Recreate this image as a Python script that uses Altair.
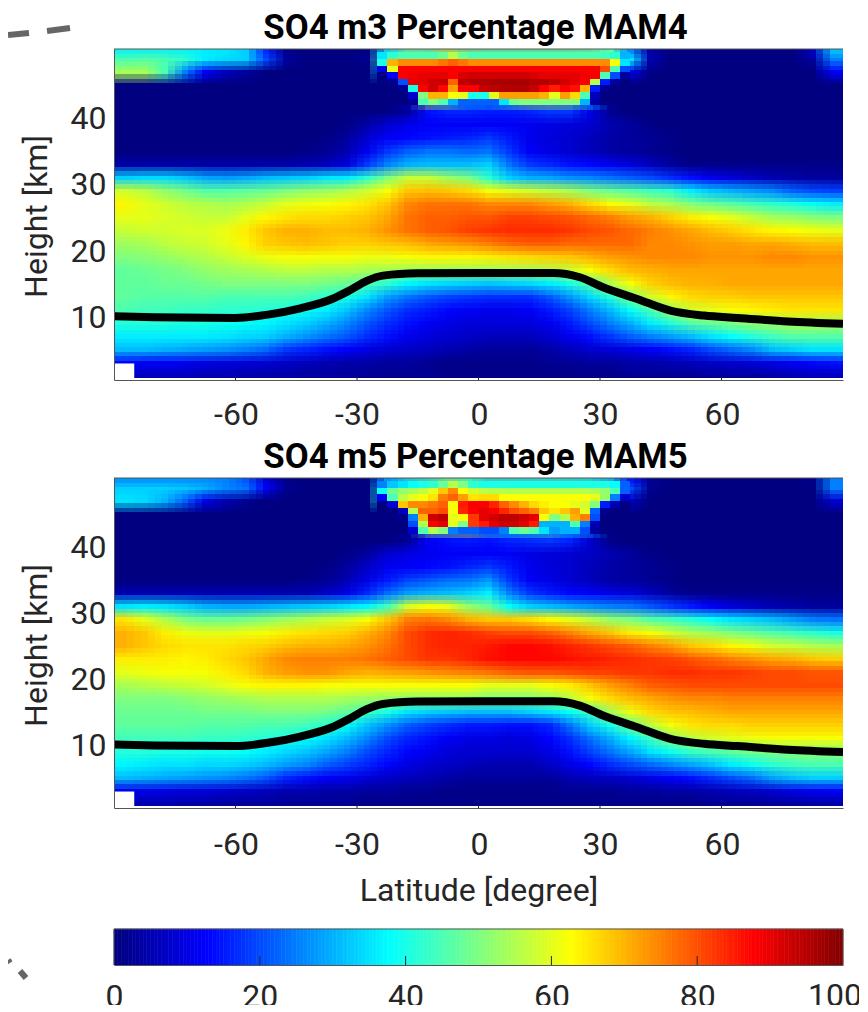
import altair as alt
import pandas as pd

LAT_EDGES = [-90 + 5 * i for i in range(37)]
ROW_EDGES = [50.4, 49.8] + list(range(48, 0, -2)) + [0.7]

M4 = [
 [36,36,36,36,36,36,33,15,1,0,0,0,0,30,40,40,50,42, 40,40,40,40,40,40,38,22,3,0,0,0,0,0,0,0,8,34],
 [45,46,45,42,36,34,33,20,3,0,0,0,2,45,72,74,78,76, 74,74,74,74,74,72,62,35,5,0,0,0,0,0,0,0,3,25],
 [54,54,45,25,12,6,3,0,0,0,0,0,0,30,88,88,88,89, 89,89,89,89,89,85,42,10,1,0,0,0,0,0,0,0,0,12],
 [0,0,0,0,0,0,0,0,0,0,0,0,0,0,20,88,90,93, 94,95,95,94,92,70,12,0,0,0,0,0,0,0,0,0,0,0],
 [0,0,0,0,0,0,0,0,0,0,0,0,0,0,5,58,52,32, 32,44,54,55,54,38,2,0,0,0,0,0,0,0,0,0,0,0],
 [0,0,0,0,0,0,0,0,0,0,0,0,0,1,3,14,16,16, 15,15,16,18,18,10,2,0,0,0,0,0,0,0,0,0,0,0],
 [0,0,0,0,0,0,0,0,0,0,0,1,4,8,11,12,12,12, 12,12,11,10,9,8,5,3,1,0,0,0,0,0,0,0,0,0],
 [0,0,0,0,0,0,0,0,0,0,1,3,8,12,13,14,15,16, 18,15,11,9,8,6,4,3,2,1,0,0,0,0,0,0,0,0],
 [0,0,0,0,0,0,0,0,0,1,2,5,11,18,22,24,24,23, 24,18,12,10,8,6,4,3,2,1,0,0,0,0,0,0,0,0],
 [4,4,4,4,4,4,4,4,4,5,6,9,18,25,30,31,31,31, 33,24,18,16,14,13,11,9,6,3,1,1,1,1,1,1,1,1],
 [33,34,34,32,29,28,29,31,32,33,35,36,42,50,57,57,53,50, 42,33,30,29,27,26,24,22,20,17,14,11,9,7,5,4,3,3],
 [58,56,52,49,46,46,47,48,50,52,53,55,58,62,68,69,68,66, 62,60,58,56,54,50,48,46,44,42,36,32,30,28,26,22,20,19],
 [63,60,58,56,55,54,55,57,60,61,62,63,65,68,74,76,76,76, 74,74,74,72,70,66,62,60,56,54,50,48,46,44,42,40,38,36],
 [60,60,59,58,57,57,60,63,65,66,66,67,68,71,76,78,78,79, 79,81,81,80,79,77,75,72,70,67,64,62,60,57,54,53,51,50],
 [57,58,58,59,59,61,64,68,70,70,69,69,70,73,76,78,79,81, 82,83,83,83,82,80,79,77,75,73,71,69,67,65,63,62,61,60],
 [53,54,56,57,58,60,63,67,68,69,68,67,67,68,69,71,72,73, 75,77,78,78,77,77,77,77,74,74,73,72,72,71,71,70,69,69],
 [50,51,52,54,55,57,59,61,62,62,62,62,61,61,62,63,63,63, 64,65,66,67,68,70,72,73,74,74,74,73,73,73,74,74,73,73],
 [47,48,49,50,52,53,54,55,56,56,55,55,54,54,53,53,53,53, 53,54,54,55,57,62,66,69,70,71,71,71,71,71,71,71,71,71],
 [47,47,48,48,49,50,50,50,50,50,49,48,45,42,37,35,34,33, 32,33,34,36,40,46,55,62,67,69,70,70,71,71,71,71,71,71],
 [47,46,46,46,46,45,45,45,45,44,42,40,35,28,24,21,19,18, 17,17,17,21,27,34,41,50,58,63,66,67,67,68,68,68,68,68],
 [45,44,44,43,43,42,42,41,40,38,36,32,26,21,17,15,13,12, 11,11,12,15,19,25,31,38,45,53,58,60,62,63,64,65,65,65],
 [41,41,41,40,40,39,38,37,35,33,30,26,21,17,14,12,10,9, 9,9,9,11,15,20,25,30,36,41,46,48,50,52,53,54,54,53],
 [36,36,36,36,36,35,34,33,30,27,24,21,17,14,11,9,8,7, 6,6,6,8,11,14,18,22,25,28,31,35,38,41,44,46,46,46],
 [31,31,30,29,28,27,25,23,18,16,14,12,10,8,7,6,5,4, 3,3,3,4,6,8,9,10,12,14,16,20,23,26,31,33,35,35],
 [13,12,12,11,10,9,9,8,7,6,5,4,4,3,3,2,1,1, 1,1,1,2,2,3,3,4,4,5,6,7,8,9,10,12,13,14],
 [6,6,6,6,5,5,4,4,4,3,3,3,2,2,2,2,1,1, 1,1,1,1,1,1,1,2,2,2,2,3,3,3,4,5,6,6],
]

M5 = [
 [25,25,25,25,25,25,20,8,1,0,0,0,0,22,28,30,42,34, 30,30,30,30,30,30,25,12,2,0,0,0,0,0,0,0,2,25],
 [33,33,33,32,30,26,24,12,2,0,0,0,0,38,52,58,72,60, 55,54,54,54,54,52,48,20,2,0,0,0,0,0,0,0,0,25],
 [35,34,30,22,10,5,2,0,0,0,0,0,0,40,62,70,76,72, 78,70,66,64,62,58,30,6,0,0,0,0,0,0,0,0,0,8],
 [0,0,0,0,0,0,0,0,0,0,0,0,0,0,3,80,88,72, 88,88,86,78,62,62,5,0,0,0,0,0,0,0,0,0,0,0],
 [0,0,0,0,0,0,0,0,0,0,0,0,0,0,3,52,55,60, 42,38,42,45,35,32,2,0,0,0,0,0,0,0,0,0,0,0],
 [0,0,0,0,0,0,0,0,0,0,0,0,0,0,2,12,14,15, 14,16,17,18,16,8,1,0,0,0,0,0,0,0,0,0,0,0],
 [0,0,0,0,0,0,0,0,0,0,0,1,3,8,10,11,12,12, 12,12,10,9,8,7,5,3,1,0,0,0,0,0,0,0,0,0],
 [0,0,0,0,0,0,0,0,0,0,1,3,7,11,12,13,14,16, 18,15,11,9,8,6,4,3,2,1,0,0,0,0,0,0,0,0],
 [0,0,0,0,0,0,0,0,0,1,2,5,10,15,19,21,23,24, 27,18,12,10,8,6,4,3,2,1,0,0,0,0,0,0,0,0],
 [5,5,5,5,5,5,5,5,5,5,7,10,16,23,28,30,31,33, 36,25,18,15,13,12,10,9,6,3,1,1,1,1,1,1,1,1],
 [35,36,35,33,30,29,29,30,31,32,33,35,37,44,58,62,60,52, 48,38,33,31,29,27,25,24,21,18,15,12,9,7,5,4,3,3],
 [65,60,55,50,48,48,49,51,53,55,57,59,62,68,75,76,74,70, 68,68,66,63,60,56,52,50,46,44,41,38,35,33,31,28,25,24],
 [70,68,64,61,60,60,61,62,64,65,66,67,70,74,80,83,84,83, 81,80,80,78,75,71,68,64,62,58,55,53,50,48,46,44,42,40],
 [70,68,66,65,65,65,66,67,69,70,70,71,73,76,80,83,84,84, 85,87,87,86,84,82,80,78,75,72,68,66,63,61,58,57,55,54],
 [64,64,64,63,64,66,68,71,74,75,75,75,76,78,80,82,82,84, 86,87,87,87,86,85,84,83,82,81,79,77,75,73,71,70,68,67],
 [60,61,62,62,62,64,66,70,72,73,73,71,70,71,72,73,74,75, 76,78,79,79,80,81,81,82,82,83,83,82,82,81,80,80,79,79],
 [54,55,56,57,58,60,62,63,63,63,62,62,62,62,62,62,62,62, 60,60,60,62,64,68,72,75,78,79,80,80,80,80,80,80,80,80],
 [50,50,50,51,52,53,54,55,55,55,55,54,53,52,52,52,52,52, 50,50,50,52,56,62,66,69,71,73,74,74,75,75,75,75,75,75],
 [48,48,48,48,49,49,49,50,50,50,49,47,44,40,35,33,32,31, 31,31,33,35,38,44,54,61,66,68,69,70,71,71,71,71,71,71],
 [47,47,47,47,46,46,46,45,45,44,42,38,32,27,22,19,17,15, 15,14,14,16,24,33,40,48,56,62,65,66,66,67,67,67,67,67],
 [44,44,44,44,43,43,42,41,40,38,35,31,26,20,16,14,12,10, 10,9,10,13,17,24,30,37,44,51,56,58,60,61,62,62,62,62],
 [41,41,40,40,39,39,38,36,34,32,29,25,20,16,13,11,9,8, 8,8,8,10,14,19,24,29,35,39,43,45,47,49,50,51,51,51],
 [37,36,35,35,34,34,33,31,28,26,22,19,16,13,10,8,7,6, 5,5,5,7,10,13,17,20,23,26,29,32,36,39,42,44,45,45],
 [31,30,29,28,27,26,24,21,16,14,12,11,9,7,6,5,4,3, 3,3,3,3,5,6,7,8,10,12,14,17,20,23,28,31,33,33],
 [11,10,10,9,9,8,7,6,5,5,4,4,3,3,2,2,1,1, 1,1,1,1,2,2,2,3,3,4,4,5,6,7,8,10,11,12],
 [5,5,5,4,4,3,3,3,2,2,2,2,1,1,1,1,1,1, 1,1,1,1,1,1,1,1,1,1,1,2,2,2,3,3,4,4],
]

# finer reading of the sharp top-centre region: 2.5 degree columns from -25, 1 km rows from 50 down
CAP4 = [
 [35,42,45,45,45,45,48,55,48,45,45,45,45,45,45,45,45,45,45,45,45,45,44,42,30],
 [40,70,74,74,74,74,76,78,76,74,74,74,74,74,74,74,74,74,74,74,74,74,74,62,35],
 [10,60,88,88,88,88,88,88,88,88,88,88,88,88,88,88,88,88,88,88,88,88,80,45,20],
 [0,12,88,89,90,90,90,88,91,92,92,92,92,92,92,91,90,90,90,90,89,88,45,20,3],
 [0,1,20,90,90,92,93,78,94,95,95,96,96,96,96,95,95,94,92,90,88,55,15,3,0],
 [0,0,2,40,88,92,87,72,88,88,93,94,95,95,95,93,88,85,88,86,70,15,2,0,0],
 [0,0,0,8,50,70,70,62,60,40,40,60,72,72,72,72,70,60,72,66,45,6,0,0,0],
 [0,0,0,2,45,50,45,30,22,22,22,22,35,48,50,50,50,50,50,50,30,4,0,0,0],
]
CAP5 = [
 [25,32,35,38,40,42,48,55,50,42,40,40,40,40,40,40,40,40,40,40,40,40,40,38,22],
 [38,48,52,54,56,60,68,74,62,58,56,55,55,55,55,55,55,55,55,55,55,54,52,45,22],
 [12,45,56,60,62,65,75,78,72,65,66,66,62,62,62,62,62,62,62,62,62,60,52,25,8],
 [0,8,68,74,74,76,78,62,85,88,88,84,78,74,70,66,64,62,62,60,58,50,15,5,0],
 [0,0,6,55,78,78,80,62,84,88,90,88,84,80,78,75,68,65,68,72,60,22,2,0,0],
 [0,0,1,25,70,92,94,60,63,82,90,92,94,94,92,90,62,50,55,70,75,20,0,0,0],
 [0,0,0,20,55,88,90,60,50,82,85,90,92,92,90,85,30,30,30,45,25,5,0,0,0],
 [0,0,0,8,45,55,50,25,22,22,20,20,25,45,48,45,35,28,30,30,20,3,0,0,0],
]
CAP_LAT0 = -25
CAP_LAT_STEP = 2.5
CAP_TOP = 50
CAP_H_STEP = 1

TROPO_LAT = [-90,-80,-60,-52,-44,-36,-32,-27.6,-23.6,-15,1,18.5,25,30.9,39,47.4,55.7,64,76.5,90]
TROPO_H = [10.05,9.9,9.8,10.3,11.25,12.7,13.9,15.4,16.2,16.55,16.6,16.6,15.95,14.4,12.7,10.9,10.15,9.8,9.25,8.9]

WHITE_LAT = [-90, -85]
WHITE_H = [0.7, 2.9]
LAT_TICKS = [-60,-30,0,30,60]
H_TICKS = [10,20,30,40]
BAR_TICKS = [20,40,60,80]
BAR_LABELS = [0,20,40,60,80]
BAR_LAST_LABEL = "100"
BAR_VALUES = [i/2 for i in range(200)]
JET_STOPS = [0,12.5,37.5,62.5,87.5,100]
JET_COLORS = ["#000080","#0000ff","#00ffff","#ffff00","#ff0000","#800000"]

FONT = "Roboto"
INK = "#262626"
FRAME = "#555555"
W = 729
LABEL = 32
TITLE = 34.75
jet = alt.Scale(domain=JET_STOPS, range=JET_COLORS, clamp=True, interpolate="rgb")
SHIFT_LAT = [-5/3, 0, 5/3]
SHIFT_H = [-2/3, 0, 2/3]

def cells(matrix, dlat, dh):
    rows = []
    nr, nc = len(matrix), len(matrix[0])
    for r, row in enumerate(matrix):
        for k, v in enumerate(row):
            rows.append(dict(
                lat0=-95 if k == 0 else LAT_EDGES[k] + dlat,
                lat1=95 if k == nc - 1 else LAT_EDGES[k + 1] + dlat,
                h0=ROW_EDGES[nr] if r == nr - 1 else max(ROW_EDGES[r + 1] + dh, ROW_EDGES[nr]),
                h1=55 if r == 0 else ROW_EDGES[r] + dh,
                v=v))
    return pd.DataFrame(rows)

def cap_cells(cap):
    rows = []
    for r, row in enumerate(cap):
        for k, v in enumerate(row):
            rows.append(dict(lat0=CAP_LAT0 + k * CAP_LAT_STEP, lat1=CAP_LAT0 + (k + 1) * CAP_LAT_STEP,
                             h0=CAP_TOP - (r + 1) * CAP_H_STEP, h1=CAP_TOP - r * CAP_H_STEP, v=v))
    return pd.DataFrame(rows)

tropo = pd.DataFrame({"lat": TROPO_LAT, "h": TROPO_H})
one = pd.DataFrame({"a": [0]})

def panel(matrix, cap, title, H, label_pad, xtitle=None, extra=None):
    xr = alt.Scale(domain=[-90, 90], nice=False, round=True)
    yr = alt.Scale(domain=[0.4, 50.5], nice=False, round=True)
    xs = alt.Scale(domain=[-90, 90], nice=False)
    ys = alt.Scale(domain=[0.4, 50.5], nice=False)
    xaxis = alt.Axis(values=LAT_TICKS, grid=False, ticks=False,
                labelExpr="'' + datum.value", labelFontSize=LABEL, labelFont=FONT, labelColor=INK,
                labelPadding=label_pad, domainColor=FRAME, zindex=1, title=xtitle, titleFont=FONT,
                titleFontSize=LABEL, titleFontWeight="normal", titleColor=INK, titlePadding=15,
                labelFlush=False)
    yaxis = alt.Axis(values=H_TICKS, grid=False, ticks=False,
                labelFontSize=LABEL, labelFont=FONT, labelColor=INK, labelPadding=8,
                domainColor=FRAME, zindex=1, title="Height [km]", titleFont=FONT, titleY=167,
                titleFontSize=LABEL, titleFontWeight="normal", titleColor=INK, titlePadding=17)
    layers = []
    i = 0
    for dh in SHIFT_H:
        for dlat in SHIFT_LAT:
            first = i == 0
            layers.append(alt.Chart(cells(matrix, dlat, dh)).mark_rect(
                strokeWidth=0, clip=True, opacity=1 / (i + 1)).encode(
                x=alt.X("lat0:Q", scale=xr, axis=xaxis if first else None),
                x2="lat1:Q",
                y=alt.Y("h0:Q", scale=yr, axis=yaxis if first else None),
                y2="h1:Q",
                color=alt.Color("v:Q", scale=jet, legend=None)))
            i += 1
    capl = alt.Chart(cap_cells(cap)).mark_rect(strokeWidth=0, clip=True).encode(
        x=alt.X("lat0:Q", scale=xr, axis=None), x2="lat1:Q",
        y=alt.Y("h0:Q", scale=yr, axis=None), y2="h1:Q",
        color=alt.Color("v:Q", scale=jet, legend=None))
    white = alt.Chart(pd.DataFrame({"a": [WHITE_LAT[0]], "b": [WHITE_LAT[1]],
                                    "c": [WHITE_H[0] - 0.5], "d": [WHITE_H[1]]})).mark_rect(
        color="white", clip=True).encode(
        x=alt.X("a:Q", scale=xs, axis=None), x2="b:Q", y=alt.Y("c:Q", scale=ys, axis=None), y2="d:Q")
    line = alt.Chart(tropo).mark_line(color="black", strokeWidth=8, interpolate="monotone", clip=True).encode(
        x=alt.X("lat:Q", scale=xs, axis=None), y=alt.Y("h:Q", scale=ys, axis=None))
    xt = alt.Chart(pd.DataFrame({"t": LAT_TICKS})).mark_rule(color=INK, strokeWidth=1).encode(
        x=alt.X("t:Q", scale=xs, axis=None), y=alt.value(H - 3), y2=alt.value(H))
    top = alt.Chart(one).mark_rule(color=FRAME, strokeWidth=1).encode(
        x=alt.value(0), x2=alt.value(W), y=alt.value(0))
    head = alt.Chart(one).mark_text(text=title, font=FONT, fontSize=TITLE, fontWeight="bold",
                                    color="black", align="center", baseline="middle").encode(
        x=alt.value(W / 2 - 3), y=alt.value(-20.5))
    layers += [capl, white, line, xt, top, head] + (extra or [])
    return alt.layer(*layers).resolve_scale(x="independent", y="independent").properties(width=W, height=H)

def dash(x1, y1, x2, y2):
    return alt.Chart(one).mark_rule(color="#666666", strokeWidth=6).encode(
        x=alt.value(x1), x2=alt.value(x2), y=alt.value(y1), y2=alt.value(y2))

p1 = panel(M4, CAP4, "SO4 m3 Percentage MAM4", 331, 19,
           extra=[dash(-106, -14, -85, -16), dash(-67, -18, -44, -21)])
p2 = panel(M5, CAP5, "SO4 m5 Percentage MAM5", 330, 21, xtitle="Latitude [degree]")

bar_x = alt.Scale(domain=[0, 100], nice=False)
bar_df = pd.DataFrame({"a": BAR_VALUES, "b": [v + 0.5 for v in BAR_VALUES]})
bar = alt.Chart(bar_df).mark_rect(strokeWidth=0.6).encode(
    x=alt.X("a:Q", scale=bar_x, axis=alt.Axis(values=BAR_LABELS, grid=False, ticks=False,
            labelFontSize=LABEL, labelFont=FONT, labelColor=INK, labelPadding=16, domainColor=FRAME,
            zindex=1, title=None, labelFlush=False, format="d")),
    x2="b:Q",
    color=alt.Color("a:Q", scale=jet, legend=None),
    stroke=alt.Stroke("a:Q", scale=jet, legend=None),
)
bar_t = alt.Chart(pd.DataFrame({"t": BAR_TICKS})).mark_rule(color=INK, strokeWidth=1).encode(
    x=alt.X("t:Q", scale=bar_x), y=alt.value(27), y2=alt.value(36))
bar_top = alt.Chart(one).mark_rule(color=FRAME, strokeWidth=1).encode(
    x=alt.value(0), x2=alt.value(W), y=alt.value(0))
bar_l = alt.Chart(one).mark_rule(color=FRAME, strokeWidth=1).encode(
    x=alt.value(0), y=alt.value(0), y2=alt.value(36))
bar_r = alt.Chart(one).mark_rule(color=FRAME, strokeWidth=1).encode(
    x=alt.value(W), y=alt.value(0), y2=alt.value(36))
bar_last = alt.Chart(one).mark_text(text=BAR_LAST_LABEL, font=FONT, fontSize=LABEL, color=INK,
                                    align="center", baseline="top").encode(
    x=alt.value(W - 8), y=alt.value(36 + 16))
pb = alt.layer(bar, bar_t, bar_top, bar_l, bar_r, bar_last,
               dash(-106, 31, -104, 34), dash(-94, 42, -88, 49)).properties(
    width=W, height=36,
    title=alt.TitleParams(" ", fontSize=4, offset=9))

chart = alt.vconcat(p1, p2, pb, spacing=9).properties(
    padding={"left": -3, "top": 2, "right": -3, "bottom": -7}
).configure_view(stroke=None)

chart.save("out.html", embed_options={"renderer": "svg", "actions": False})
